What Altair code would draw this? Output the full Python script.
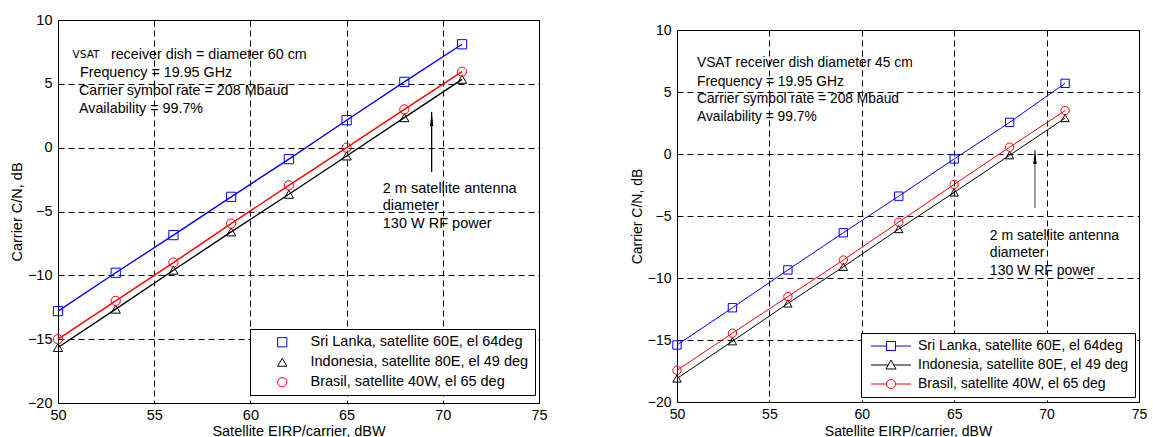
import altair as alt
import pandas as pd

# ---------------- data ----------------
x_vals = [50, 53, 56, 59, 62, 65, 68, 71]
series_names = [
    "Sri Lanka, satellite 60E, el 64deg",
    "Indonesia, satellite 80E, el 49 deg",
    "Brasil, satellite 40W, el 65 deg",
]
series_colors = ["#0000ff", "#000000", "#ff0000"]
series_shapes = ["square", "triangle-up", "circle"]

left_sri = [-12.8, -9.8, -6.85, -3.85, -0.9, 2.15, 5.15, 8.1]
left_indo = [-15.65, -12.65, -9.6, -6.6, -3.65, -0.65, 2.35, 5.35]
left_bra = [-15.0, -12.0, -9.0, -5.95, -2.95, 0.0, 3.0, 5.95]

right_sri = [-15.4, -12.4, -9.35, -6.35, -3.4, -0.4, 2.55, 5.7]
right_indo = [-18.1, -15.1, -12.05, -9.1, -6.05, -3.1, -0.1, 2.9]
right_bra = [-17.45, -14.45, -11.5, -8.55, -5.5, -2.45, 0.55, 3.5]

x_ticks = [50, 55, 60, 65, 70, 75]
y_ticks = [-20, -15, -10, -5, 0, 5, 10]

left_info_text = ["receiver dish = diameter 60 cm", "Frequency = 19.95 GHz",
                  "Carrier symbol rate = 208 Mbaud", "Availability = 99.7%"]
left_info_x = [52.75, 51.14, 51.09, 51.09]
left_info_y = [7.26, 5.85, 4.44, 3.03]
left_vsat = ["VSAT"]
left_vsat_x = [50.76]
left_vsat_y = [7.26]

right_info_text = ["VSAT receiver dish diameter 45 cm", "Frequency = 19.95 GHz",
                   "Carrier symbol rate = 208 Mbaud", "Availability = 99.7%"]
right_info_x = [51.08, 51.08, 51.08, 51.08]
right_info_y = [7.31, 5.83, 4.41, 2.96]

antenna_text = ["2 m satellite antenna", "diameter", "130 W RF power"]
left_ant_x = [66.88, 66.88, 66.88]
left_ant_y = [-3.2, -4.6, -6.0]
right_ant_x = [66.93, 66.93, 66.93]
right_ant_y = [-6.6, -8.0, -9.45]

left_arrow = {"x": [69.42], "y_tail": [-1.9], "y_tip": [2.8]}
right_arrow = {"x": [69.37], "y_tail": [-4.35], "y_tip": [0.32]}

# legend symbols: markers only (left) / line + marker (right)
left_legend_shapes = series_shapes
right_legend_shapes = [
    "M-4,0L-0.9,0M0.9,0L4,0M-0.9,-0.9L0.9,-0.9L0.9,0.9L-0.9,0.9Z",
    "M-4,0L-0.56,0M0.56,0L4,0M0,-1L1,0.8L-1,0.8Z",
    "M-4,0L-0.9,0M0.9,0L4,0M-0.9,0A0.9,0.9,0,1,1,0.9,0A0.9,0.9,0,1,1,-0.9,0",
]
ARROW_HEAD = "M0,0L0.24,2L-0.24,2Z"

FONT = "Liberation Sans"


def make_df(values):
    rows = []
    for name, ys in zip(series_names, values):
        for x, y in zip(x_vals, ys):
            rows.append({"x": x, "y": y, "series": name})
    return pd.DataFrame(rows)


def panel(values, w, h, fs, marker_size, line_width, legend_shapes, legend_cfg,
          info_text, info_x, info_y, extra_text, ant_x, ant_y, arrow, stem_color):
    df = make_df(values)
    xs = alt.Scale(domain=[50, 75], nice=False, zero=False)
    ys = alt.Scale(domain=[-20, 10], nice=False, zero=False)
    common = dict(grid=True, gridDash=[6, 4], gridColor="black", gridOpacity=1, gridWidth=1,
                  ticks=False, domain=False, labelOverlap=False, labelFlush=False,
                  labelFont=FONT, labelFontSize=fs, labelColor="black",
                  titleFont=FONT, titleFontSize=fs, titleFontWeight="normal", titleColor="black")
    xax = alt.Axis(values=x_ticks, title="Satellite EIRP/carrier, dBW",
                   labelPadding=5, titlePadding=3, **common)
    yax = alt.Axis(values=y_ticks, title="Carrier C/N, dB",
                   labelPadding=6, titlePadding=3, **common)
    base = alt.Chart(df)
    layers = []
    for name, col in zip(series_names, series_colors):
        layers.append(
            base.transform_filter(alt.datum.series == name)
            .mark_line(color=col, strokeWidth=line_width)
            .encode(x=alt.X("x:Q", scale=xs, axis=xax), y=alt.Y("y:Q", scale=ys, axis=yax))
        )
    for name, col, shp in zip(series_names, series_colors, series_shapes):
        layers.append(
            base.transform_filter(alt.datum.series == name)
            .mark_point(color=col, shape=shp, size=marker_size, filled=False, strokeWidth=1, opacity=1)
            .encode(x=alt.X("x:Q", scale=xs), y=alt.Y("y:Q", scale=ys))
        )
    # legend-only layer
    layers.append(
        base.transform_filter("false")
        .mark_point(filled=False, opacity=1)
        .encode(
            x=alt.X("x:Q", scale=xs), y=alt.Y("y:Q", scale=ys),
            color=alt.Color("series:N", scale=alt.Scale(domain=series_names, range=series_colors),
                            sort=series_names, legend=legend_cfg),
            shape=alt.Shape("series:N", scale=alt.Scale(domain=series_names, range=legend_shapes),
                            sort=series_names, legend=legend_cfg),
        )
    )
    info_df = pd.DataFrame({"t": info_text, "x": info_x, "y": info_y})
    layers.append(
        alt.Chart(info_df).mark_text(align="left", baseline="middle", font=FONT,
                                     fontSize=fs - 0.2, color="black")
        .encode(x=alt.X("x:Q", scale=xs), y=alt.Y("y:Q", scale=ys), text="t:N")
    )
    if extra_text is not None:
        t, ex, ey = extra_text
        layers.append(
            alt.Chart(pd.DataFrame({"t": t, "x": ex, "y": ey}))
            .mark_text(align="left", baseline="middle", font="DejaVu Sans", fontSize=10.5, color="black")
            .encode(x=alt.X("x:Q", scale=xs), y=alt.Y("y:Q", scale=ys), text="t:N")
        )
    ant_df = pd.DataFrame({"t": antenna_text, "x": ant_x, "y": ant_y})
    layers.append(
        alt.Chart(ant_df).mark_text(align="left", baseline="middle", font=FONT,
                                    fontSize=fs, color="black")
        .encode(x=alt.X("x:Q", scale=xs), y=alt.Y("y:Q", scale=ys), text="t:N")
    )
    arr_df = pd.DataFrame(arrow)
    layers.append(
        alt.Chart(arr_df).mark_rule(color=stem_color, strokeWidth=1.3)
        .encode(x=alt.X("x:Q", scale=xs), y=alt.Y("y_tail:Q", scale=ys), y2="y_tip:Q")
    )
    layers.append(
        alt.Chart(arr_df).mark_point(shape=ARROW_HEAD, filled=True, color="black", size=196, opacity=1)
        .encode(x=alt.X("x:Q", scale=xs), y=alt.Y("y_tip:Q", scale=ys))
    )
    return alt.layer(*layers).properties(width=w, height=h)


def legend(x, y, size, sym_off, lab_off, fs, pad_expr):
    return alt.Legend(orient="none", legendX=x, legendY=y, title=None,
                      strokeColor="black", fillColor="white", padding=6,
                      symbolOffset=sym_off, labelOffset=lab_off, rowPadding=5,
                      labelFont=FONT, labelFontSize=fs, labelColor="black",
                      symbolSize=size, symbolStrokeWidth=1, labelLimit=400,
                      cornerRadius=0, labelExpr=pad_expr)


left = panel([left_sri, left_indo, left_bra], 481, 383, 14.5, 85, 1.4, left_legend_shapes,
             legend(192, 309, 85, 19, 21, 14.5, "datum.label + '    '"),
             left_info_text, left_info_x, left_info_y,
             (left_vsat, left_vsat_x, left_vsat_y), left_ant_x, left_ant_y,
             left_arrow, "black")

right = panel([right_sri, right_indo, right_bra], 462, 372, 14, 70, 1, right_legend_shapes,
              legend(184, 313, 100, 17, 20, 14, "datum.label + ' '"),
              right_info_text, right_info_x, right_info_y,
              None, right_ant_x, right_ant_y, right_arrow, "#6e6e6e")

# invisible spacer that lowers the right panel
spacer_df = pd.DataFrame({"s": [0]})
spacer = (
    alt.Chart(spacer_df).mark_point(opacity=0, size=1)
    .properties(width=1, height=1, view=alt.ViewBackground(stroke="transparent"))
)

chart = (
    alt.hconcat(left, alt.vconcat(spacer, right, spacing=0), spacing=81)
    .resolve_scale(color="independent", shape="independent")
    .resolve_legend(color="independent", shape="independent")
    .properties(padding={"left": 8, "top": 11, "right": 0, "bottom": 0}, background="white")
    .configure_view(stroke="black", strokeWidth=1)
)

chart.save("out.html", embed_options={"renderer": "svg", "actions": False})
